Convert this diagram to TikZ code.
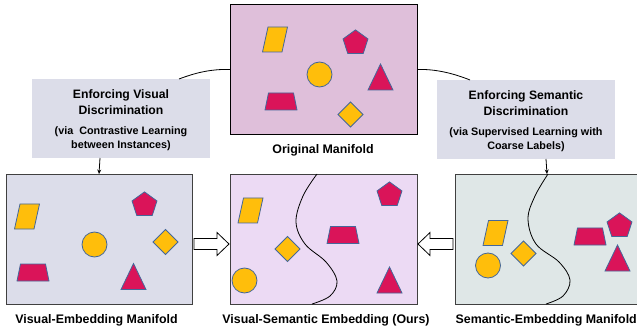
\documentclass[tikz,border=0pt]{standalone}
\usepackage{fontspec}
\setmainfont{Liberation Sans}
\usetikzlibrary{arrows.meta}
\definecolor{ylw}{HTML}{FFBE0B}
\definecolor{crim}{HTML}{DA1459}
\definecolor{edge}{HTML}{44679A}
\definecolor{origfill}{HTML}{DFBFDA}
\definecolor{visfill}{HTML}{DCDDEA}
\definecolor{midfill}{HTML}{ECDAF4}
\definecolor{semfill}{HTML}{DFE7E7}
\definecolor{lblfill}{HTML}{DCDDE9}
\begin{document}
\begin{tikzpicture}[x=1pt,y=-1pt,
  yshape/.style={fill=ylw,draw=edge,line width=0.8pt},
  rshape/.style={fill=crim,draw=edge,line width=0.8pt},
  manifold/.style={draw=black!75,line width=0.9pt,inner sep=0pt,anchor=north west},
  lblbox/.style={fill=lblfill,inner sep=0pt,anchor=north west,minimum width=178pt,minimum height=79pt},
  captxt/.style={font=\bfseries\fontsize{12.4}{14}\selectfont,inner sep=0pt},
  headtxt/.style={font=\bfseries\fontsize{12.2}{14}\selectfont,inner sep=0pt},
  subtxt/.style={font=\bfseries\fontsize{10.8}{13}\selectfont,inner sep=0pt},
  conn/.style={black,line width=0.8pt},
  arr/.style={black,line width=0.8pt,-{Stealth[length=4.5pt,width=4pt]}},
  blockarr/.style={fill=white,draw=black,line width=0.8pt,line join=miter},
  para/.pic={\path[yshape] (-7,-12.5) -- (12.5,-12.5) -- (7,12.5) -- (-12.5,12.5) -- cycle;},
  trap/.pic={\path[rshape] (-12.5,-8.5) -- (12.5,-8.5) -- (16,8.5) -- (-16,8.5) -- cycle;},
  circ/.pic={\path[yshape] (0,0) circle[radius=12.5];},
  pent/.pic={\path[rshape] (-90:13.1) -- (-18:13.1) -- (54:13.1) -- (126:13.1) -- (198:13.1) -- cycle;},
  tri/.pic={\path[rshape] (0,-13) -- (12.5,13) -- (-12.5,13) -- cycle;},
  diam/.pic={\path[yshape] (0,-12.5) -- (12.5,0) -- (0,12.5) -- (-12.5,0) -- cycle;}
]
\useasboundingbox (0,0) rectangle (637,331);

% boxes
\node[manifold,fill=origfill,draw=black,minimum width=187pt,minimum height=130pt] (orig) at (230,4) {};
\node[manifold,fill=visfill,minimum width=186pt,minimum height=130pt] (vis) at (6,174) {};
\node[manifold,fill=midfill,minimum width=187pt,minimum height=130pt] (mid) at (230,174) {};
\node[manifold,fill=semfill,minimum width=184pt,minimum height=130pt] (sem) at (455,174) {};

% label boxes
\node[lblbox] (lvis) at (32,79) {};
\node[lblbox] (lsem) at (437,80) {};
\node[headtxt] (lvis1) at (121,95) {Enforcing Visual};
\node[headtxt] (lvis2) at (121,110) {Discrimination};
\node[subtxt] (lvis3) at (121,132) {(via\ \ Contrastive Learning};
\node[subtxt] (lvis4) at (121,146) {between Instances)};
\node[headtxt] (lsem1) at (526,96) {Enforcing Semantic};
\node[headtxt] (lsem2) at (526,111) {Discrimination};
\node[subtxt] (lsem3) at (526,133) {(via Supervised Learning with};
\node[subtxt] (lsem4) at (526,147) {Coarse Labels)};

% captions
\node[captxt] (corig) at (323,150) {Original Manifold};
\node[captxt] (cvis) at (96.5,320) {Visual-Embedding Manifold};
\node[captxt] (cmid) at (326,320) {Visual-Semantic Embedding (Ours)};
\node[captxt,anchor=east] (csem) at (637,320) {Semantic-Embedding Manifold};

% connectors from original manifold
\coordinate (lvtop) at (179,79);
\coordinate (lstop) at (470,80);
\draw[conn] (orig.west) .. controls (210,69) and (195,73) .. (lvtop);
\draw[conn] (orig.east) .. controls (437,69) and (455,74) .. (lstop);

% arrows into bottom boxes
\coordinate (lvbot) at (100,158);
\coordinate (visin) at (99,174);
\draw[arr] (lvbot) -- (visin);
\coordinate (lsbot) at (546,159);
\coordinate (semin) at (547,174);
\draw[arr] (lsbot) -- (semin);

% block arrows
\path[blockarr] (194,238.5) -- (217,238.5) -- (217,232.5) -- (229,244) -- (217,255.5) -- (217,249.5) -- (194,249.5) -- cycle;
\path[blockarr] (453,238.5) -- (430,238.5) -- (430,232.5) -- (418,244) -- (430,255.5) -- (430,249.5) -- (453,249.5) -- cycle;

% separating curves
\draw[conn] plot[smooth,tension=0.6] coordinates {(317,174) (303,196) (296,222) (305,244) (326,262) (337,281) (330,296) (312,304)};
\draw[conn] plot[smooth,tension=0.6] coordinates {(548,174) (535,196) (528,219) (536,244) (559,262) (570,280) (563,296) (546,304)};

% original manifold shapes
\pic at (275,39.5) {para};
\pic at (319.5,74.5) {circ};
\pic at (281,101.5) {trap};
\pic at (355.5,43) {pent};
\pic at (380.5,77) {tri};
\pic at (350.5,114.5) {diam};

% visual embedding shapes
\pic at (27,216.5) {para};
\pic at (33,272.5) {trap};
\pic at (94.5,244.5) {circ};
\pic at (144.5,205) {pent};
\pic at (165.5,242) {diam};
\pic at (133.5,276.5) {tri};

% visual-semantic shapes
\pic at (250.5,210.5) {para};
\pic at (287.5,249) {diam};
\pic at (244.5,280.5) {circ};
\pic at (389.5,195) {pent};
\pic at (343,235) {trap};
\pic at (389.5,280) {tri};

% semantic embedding shapes
\pic at (495.5,233) {para};
\pic at (523.5,253.5) {diam};
\pic at (488,265.5) {circ};
\pic at (590,236.5) {trap};
\pic at (619.5,226) {pent};
\pic at (617.5,258) {tri};
\end{tikzpicture}
\end{document}
